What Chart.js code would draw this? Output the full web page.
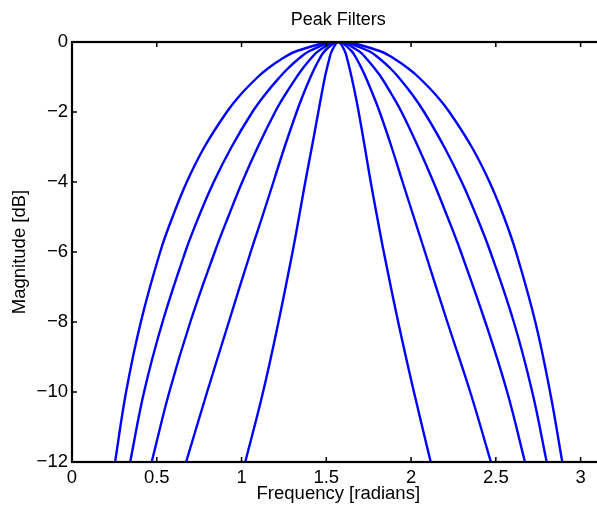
<!DOCTYPE html>
<html>
<head>
<meta charset="utf-8">
<script src="https://cdn.jsdelivr.net/npm/chart.js@4.4.1/dist/chart.umd.min.js"></script>
<style>
    html, body { margin: 0; padding: 0; overflow: hidden; background: #fff; }
</style>
</head>
<body>
<canvas id="peak_chart" width="612" height="509"></canvas>
<script>
// magnitude levels (dB) shared by every curve, left flank -> peak -> right flank
var magnitude = [-12, -10, -8, -6, -5, -4, -3, -2, -1.5, -1, -0.75, -0.5, -0.25, 0,
                 -0.25, -0.5, -0.75, -1, -1.5, -2, -3, -4, -5, -6, -8, -10, -12];

// frequency (radians) where each filter crosses those levels, widest first
var freqA = [0.254, 0.319, 0.406, 0.520, 0.593, 0.677, 0.781, 0.913, 0.995, 1.096, 1.157, 1.232, 1.330, 1.571,
             1.811, 1.908, 1.982, 2.043, 2.144, 2.226, 2.358, 2.463, 2.548, 2.619, 2.733, 2.820, 2.892];
var freqB = [0.343, 0.425, 0.534, 0.668, 0.747, 0.836, 0.941, 1.064, 1.139, 1.226, 1.275, 1.332, 1.404, 1.571,
             1.747, 1.820, 1.877, 1.925, 2.007, 2.077, 2.196, 2.299, 2.388, 2.468, 2.606, 2.715, 2.800];
var freqC = [0.470, 0.574, 0.698, 0.842, 0.921, 1.004, 1.096, 1.198, 1.258, 1.325, 1.362, 1.404, 1.456, 1.571,
             1.689, 1.741, 1.784, 1.823, 1.886, 1.944, 2.042, 2.132, 2.215, 2.294, 2.438, 2.567, 2.672];
var freqD = [0.673, 0.797, 0.925, 1.054, 1.122, 1.188, 1.254, 1.325, 1.364, 1.407, 1.431, 1.458, 1.492, 1.571,
             1.647, 1.681, 1.708, 1.732, 1.775, 1.815, 1.885, 1.950, 2.016, 2.082, 2.214, 2.349, 2.471];
var freqE = [1.022, 1.127, 1.218, 1.301, 1.339, 1.376, 1.415, 1.453, 1.472, 1.492, 1.504, 1.517, 1.533, 1.571,
             1.608, 1.624, 1.637, 1.649, 1.671, 1.691, 1.727, 1.762, 1.800, 1.839, 1.924, 2.017, 2.116];

var xTicks = [0, 0.5, 1, 1.5, 2, 2.5, 3];
var xTickLabels = ['0', '0.5', '1', '1.5', '2', '2.5', '3'];
var yTicks = [-12, -10, -8, -6, -4, -2, 0];
var yTickLabels = ['\u221212', '\u221210', '\u22128', '\u22126', '\u22124', '\u22122', '0'];

var FONT = "'Liberation Sans', Arial, Helvetica, sans-serif";

function toPoints(freq){
    return freq.map(function(f, i){ return {x: f, y: magnitude[i]}; });
}

function lineSet(freq){
    return {
        data: toPoints(freq),
        borderColor: '#0000ff',
        borderWidth: 2.4,
        pointRadius: 0,
        fill: false,
        tension: 0.4
    };
}

// matlab style box, inward ticks and the title
var matlabBox = {
    id: 'matlabBox',
    afterDraw: function(chart){
        var ctx = chart.ctx;
        var a = chart.chartArea;
        var xs = chart.scales.x, ys = chart.scales.y;
        ctx.save();
        ctx.strokeStyle = '#000';
        ctx.lineWidth = 1.5;
        ctx.beginPath();
        xTicks.forEach(function(v){
            var px = xs.getPixelForValue(v);
            ctx.moveTo(px, a.bottom); ctx.lineTo(px, a.bottom - 5);
            ctx.moveTo(px, a.top); ctx.lineTo(px, a.top + 5);
        });
        yTicks.forEach(function(v){
            var py = ys.getPixelForValue(v);
            ctx.moveTo(a.left, py); ctx.lineTo(a.left + 5, py);
            ctx.moveTo(a.right, py); ctx.lineTo(a.right - 5, py);
        });
        ctx.stroke();
        ctx.lineWidth = 2.2;
        ctx.strokeRect(a.left, a.top, a.right - a.left, a.bottom - a.top);

        ctx.fillStyle = '#000';
        ctx.font = '18px ' + FONT;
        ctx.textAlign = 'center';
        ctx.textBaseline = 'middle';
        ctx.fillText('Peak Filters', (a.left + a.right) / 2, 20);
        ctx.restore();
    }
};

function init(){
    var ctx = document.getElementById('peak_chart').getContext('2d');
    var chart = new Chart(ctx, {
        type: 'line',
        data: {
            datasets: [lineSet(freqA), lineSet(freqB), lineSet(freqC), lineSet(freqD), lineSet(freqE)]
        },
        options: {
            responsive: false,
            animation: false,
            layout: {
                padding: {top: 42, right: 7.4, bottom: 0, left: 0}
            },
            plugins: {
                legend: {display: false},
                tooltip: {enabled: false}
            },
            scales: {
                x: {
                    type: 'linear',
                    min: 0,
                    max: Math.PI,
                    grid: {display: false, drawTicks: false},
                    border: {display: false},
                    afterBuildTicks: function(scale){
                        scale.ticks = xTicks.map(function(v){ return {value: v}; });
                    },
                    afterFit: function(scale){ scale.height = 47; },
                    ticks: {
                        color: '#000',
                        padding: 5,
                        maxRotation: 0,
                        autoSkip: false,
                        font: {family: FONT, size: 18.5},
                        callback: function(v){ return xTickLabels[xTicks.indexOf(v)]; }
                    },
                    title: {
                        display: true,
                        text: 'Frequency [radians]',
                        color: '#000',
                        font: {family: FONT, size: 18.5},
                        padding: {top: 0, bottom: 4}
                    }
                },
                y: {
                    type: 'linear',
                    min: -12,
                    max: 0,
                    grid: {display: false, drawTicks: false},
                    border: {display: false},
                    afterBuildTicks: function(scale){
                        scale.ticks = yTicks.map(function(v){ return {value: v}; });
                    },
                    afterFit: function(scale){ scale.width = 72; },
                    ticks: {
                        color: '#000',
                        padding: 4,
                        autoSkip: false,
                        font: {family: FONT, size: 18.5},
                        callback: function(v){ return yTickLabels[yTicks.indexOf(v)]; }
                    },
                    title: {
                        display: true,
                        text: 'Magnitude [dB]',
                        color: '#000',
                        font: {family: FONT, size: 18.5},
                        padding: {top: 9, bottom: 0}
                    }
                }
            }
        },
        plugins: [matlabBox]
    });
}

window.onload = init;
</script>
</body>
</html>
